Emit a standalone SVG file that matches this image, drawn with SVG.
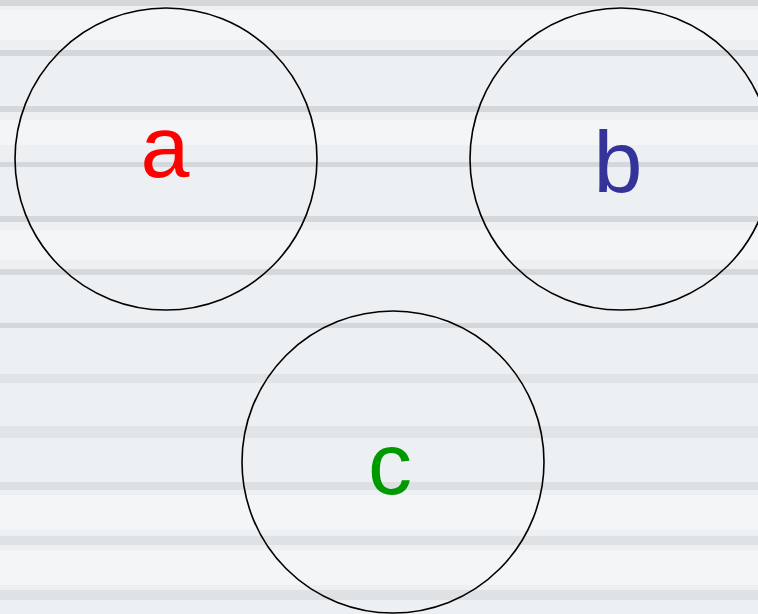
<svg xmlns="http://www.w3.org/2000/svg" width="758" height="614" viewBox="0 0 758 614">
  <style>
    .stripe { fill: #d5d8db; }
    .soft { fill: #f6f8fa; opacity: 0.6; }
    .node circle { fill: none; stroke: #000000; stroke-width: 1.6; }
    .node text { font-family: "Liberation Sans", Arial, sans-serif; font-size: 88px; text-anchor: middle; }
  </style>
  <g id="background">
    <rect x="0" y="0" width="758" height="614" fill="#edf0f3"/>
    <rect class="soft" x="0" y="10" width="758" height="30"/>
    <rect class="soft" x="0" y="120" width="758" height="25"/>
    <rect class="soft" x="0" y="230" width="758" height="30"/>
    <rect class="soft" x="0" y="495" width="758" height="35"/>
    <rect class="soft" x="0" y="550" width="758" height="35"/>
    <rect class="stripe" x="0" y="0" width="758" height="6"/>
    <rect class="stripe" x="0" y="50" width="758" height="6"/>
    <rect class="stripe" x="0" y="106" width="758" height="6"/>
    <rect class="stripe" x="0" y="162" width="758" height="5"/>
    <rect class="stripe" x="0" y="216" width="758" height="6"/>
    <rect class="stripe" x="0" y="269" width="758" height="6"/>
    <rect class="stripe" x="0" y="323" width="758" height="5"/>
    <rect class="stripe" x="0" y="374" width="758" height="9" opacity="0.5"/>
    <rect class="stripe" x="0" y="426" width="758" height="12" opacity="0.5"/>
    <rect class="stripe" x="0" y="482" width="758" height="8" opacity="0.7"/>
    <rect class="stripe" x="0" y="536" width="758" height="9" opacity="0.6"/>
    <rect class="stripe" x="0" y="590" width="758" height="10" opacity="0.6"/>
  </g>
  <g id="connectors"></g>
  <g id="node-a" class="node">
    <circle cx="166" cy="159" r="151"/>
    <text x="165" y="177" fill="#ff0000">a</text>
  </g>
  <g id="node-b" class="node">
    <circle cx="621" cy="159" r="151"/>
    <text x="618" y="192" fill="#333399">b</text>
  </g>
  <g id="node-c" class="node">
    <circle cx="393" cy="462" r="151"/>
    <text x="390" y="494" fill="#009900">c</text>
  </g>
</svg>
